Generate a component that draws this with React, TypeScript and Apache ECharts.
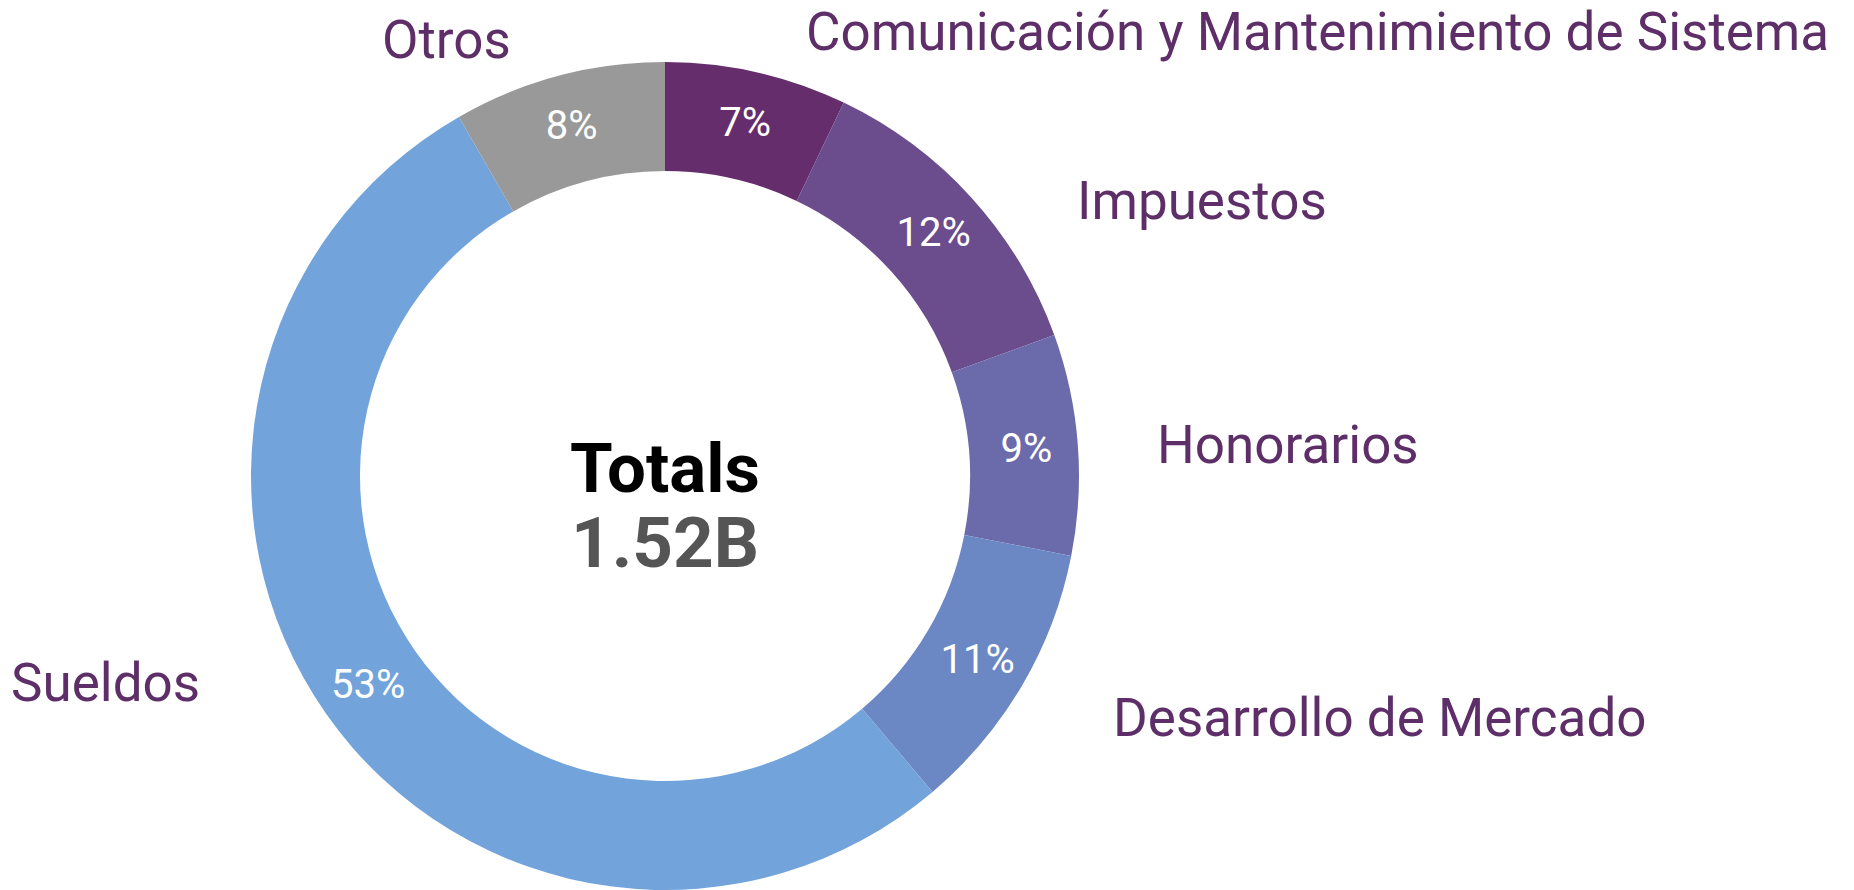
import React, { useEffect, useRef } from "react";
import * as echarts from "echarts";

const categories = [
  "Comunicación y Mantenimiento de Sistema",
  "Impuestos",
  "Honorarios",
  "Desarrollo de Mercado",
  "Sueldos",
  "Otros",
];
// values in millions
const values = [108, 188, 131, 163, 804, 126];
const colors = ["#652d6b", "#6b4c8d", "#6b6aab", "#6b88c4", "#72a3da", "#999999"];
const totalTitle = "Totals";
const totalValue = "1.52B";

// outside label anchors (left x, vertical middle y) in px
const labelAnchors: Record<string, [number, number]> = {
  "Comunicación y Mantenimiento de Sistema": [806, 32],
  Impuestos: [1077, 201],
  Honorarios: [1157, 445],
  "Desarrollo de Mercado": [1113, 718],
  Sueldos: [11, 683],
  Otros: [382, 40],
};

const CX = 665;
const CY = 476;

export default function App() {
  const ref = useRef<HTMLDivElement>(null);
  useEffect(() => {
    document.body.style.margin = "0";
    if (!ref.current) return;
    const chart = echarts.init(ref.current, undefined, { renderer: "svg" });
    const data = categories.map((name, i) => ({
      name,
      value: values[i],
      itemStyle: { color: colors[i] },
    }));
    chart.setOption({
      animation: false,
      backgroundColor: "#ffffff",
      series: [
        {
          type: "pie",
          center: [CX, CY],
          radius: [305, 414],
          startAngle: 90,
          clockwise: true,
          silent: true,
          emphasis: { disabled: true },
          itemStyle: { borderWidth: 0 },
          label: {
            show: true,
            position: "inside",
            color: "#ffffff",
            fontFamily: "Roboto",
            fontSize: 40,
            formatter: (p: any) => Math.round(p.percent) + "%",
          },
          labelLine: { show: false },
          data,
        },
        {
          type: "pie",
          center: [CX, CY],
          radius: [305, 414],
          startAngle: 90,
          clockwise: true,
          silent: true,
          emphasis: { disabled: true },
          itemStyle: { color: "rgba(0,0,0,0)", borderWidth: 0 },
          label: {
            show: true,
            position: "outside",
            color: "#5e2e68",
            fontFamily: "Roboto",
            fontSize: 53,
            formatter: "{b}",
          },
          labelLine: { show: false },
          labelLayout: (params: any) => {
            const name = categories[params.dataIndex];
            const a = labelAnchors[name];
            return { x: a[0], y: a[1], align: "left", verticalAlign: "middle" };
          },
          data: categories.map((name, i) => ({ name, value: values[i] })),
        },
      ],
      graphic: [
        {
          type: "text",
          x: CX,
          y: 468,
          style: {
            text: totalTitle,
            fill: "#000000",
            font: "bold 69px Roboto",
            textAlign: "center",
            textVerticalAlign: "middle",
          },
        },
        {
          type: "text",
          x: CX,
          y: 542,
          style: {
            text: totalValue,
            fill: "#555555",
            font: "bold 71px Roboto",
            textAlign: "center",
            textVerticalAlign: "middle",
          },
        },
      ],
    });
    return () => chart.dispose();
  }, []);
  return <div ref={ref} style={{ width: 1854, height: 890 }} />;
}
